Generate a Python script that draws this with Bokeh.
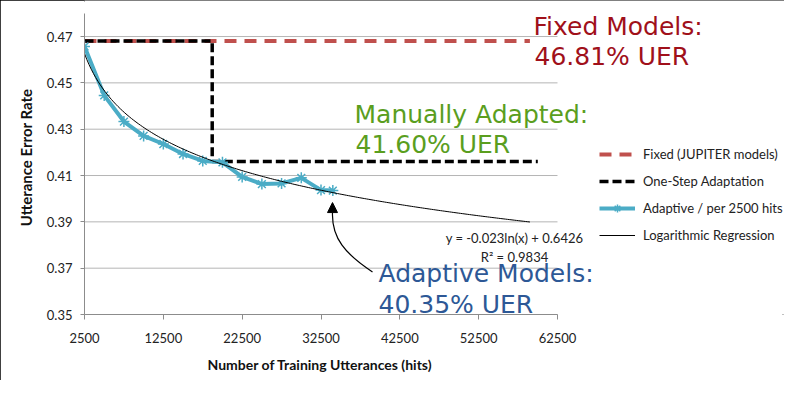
from bokeh.plotting import figure
from bokeh.models import (Range1d, FixedTicker, Label, Legend, LegendItem, Arrow,
                          NormalHead, PrintfTickFormatter, Title)
from bokeh.embed import file_html
from bokeh.resources import INLINE
import numpy as np

# ---------------- data ----------------
x_ticks = [2500, 12500, 22500, 32500, 42500, 52500, 62500]
y_ticks = [0.35, 0.37, 0.39, 0.41, 0.43, 0.45, 0.47]

hits = [2500, 5000, 7500, 10000, 12500, 15000, 17500, 20000, 22500, 25000,
        27500, 30000, 32500, 34000]
uer = [0.4657, 0.4446, 0.4333, 0.4271, 0.4236, 0.4193, 0.4163, 0.4157, 0.4094,
       0.4063, 0.4066, 0.4090, 0.4037, 0.4035]

fixed_x = [2500, 59000]
fixed_y = [0.4681, 0.4681]

step_x = [2500, 18700, 18700, 60000]
step_y = [0.4681, 0.4681, 0.4160, 0.4160]

reg_slope = -0.023
reg_intercept = 0.6426
reg_x_start = 2500
reg_x_end = 59000

legend_labels = ["Fixed (JUPITER models)", "One-Step Adaptation",
                 "Adaptive / per 2500 hits", "Logarithmic Regression"]

# ---------------- layout helpers (canvas pixel -> data) ----------------
W, H = 784, 380
AX_L, AX_R, AX_T, AX_B = 84.0, 557.0, 13.0, 317.0   # axes box in canvas px
X0, X1, Y0, Y1 = 2500, 62500, 0.35, 0.48


def dx(px):
    return X0 + (px - AX_L) / (AX_R - AX_L) * (X1 - X0)


def dy(py):
    return Y0 + (AX_B - py) / (AX_B - AX_T) * (Y1 - Y0)


TICK_FONT = "Lato"
ANN_FONT = "DejaVu Sans"

# the frame spans to the right and top edges so that texts and legend are not clipped
p = figure(width=W, height=H, output_backend="svg", toolbar_location=None,
           x_range=Range1d(X0, dx(W)), y_range=Range1d(Y0, dy(0)),
           min_border_left=int(AX_L), min_border_right=0, min_border_top=0,
           min_border_bottom=int(H - AX_B))
p.outline_line_color = None
p.background_fill_color = "white"
p.border_fill_color = "white"
p.styles = {"outline": "2px solid black", "outline-offset": "-2px"}

# axes
p.xaxis.ticker = FixedTicker(ticks=x_ticks)
p.yaxis.ticker = FixedTicker(ticks=y_ticks)
p.yaxis.formatter = PrintfTickFormatter(format="%.2f")
p.xaxis.bounds = (X0, X1)
p.yaxis.bounds = (Y0, Y1)
for ax in (p.xaxis[0], p.yaxis[0]):
    ax.axis_line_color = "#8c8c8c"
    ax.major_tick_line_color = "#8c8c8c"
    ax.minor_tick_line_color = None
    ax.major_tick_in = 0
    ax.major_label_text_font = TICK_FONT
    ax.major_label_text_font_size = "13px"
    ax.major_label_text_color = "#222222"
    ax.axis_label_text_font = TICK_FONT
    ax.axis_label_text_font_style = "bold"
    ax.axis_label_text_color = "#111111"
p.yaxis.axis_label_text_font_size = "15px"
p.xaxis.major_tick_out = 5
p.yaxis.major_tick_out = 4
p.xaxis.major_label_standoff = 13
p.yaxis.major_label_standoff = 8
p.yaxis.axis_label = "Utterance Error Rate"
p.yaxis.axis_label_standoff = 9

# x-axis title placed as a title below the axis, aligned to the axes box
x_title = Title(text="Number of Training Utterances (hits)", align="left",
                offset=207 - AX_L, text_font=TICK_FONT, text_font_size="14px",
                text_font_style="bold", text_color="#111111", standoff=16)
p.add_layout(x_title, "below")

# gridlines drawn only across the axes box
p.xgrid.grid_line_color = None
p.ygrid.grid_line_color = None
p.segment(x0=[X0] * len(y_ticks), y0=y_ticks, x1=[X1] * len(y_ticks), y1=y_ticks,
          line_color="#b5b5b5", line_width=1)

# series
fixed_r = p.line(fixed_x, fixed_y, line_color="#c0504d", line_width=4, line_dash="12 8")
step_r = p.line(step_x, step_y, line_color="black", line_width=3.5, line_dash="9 4")
adapt_l = p.line(hits, uer, line_color="#4bacc6", line_width=4)
adapt_m = p.scatter(hits, uer, marker="asterisk", size=11, line_color="#4bacc6",
                    line_width=1.5)
reg_x = np.linspace(reg_x_start, reg_x_end, 200)
reg_y = reg_slope * np.log(reg_x) + reg_intercept
reg_r = p.line(reg_x, reg_y, line_color="black", line_width=1)

legend = Legend(items=[
    LegendItem(label=legend_labels[0], renderers=[fixed_r]),
    LegendItem(label=legend_labels[1], renderers=[step_r]),
    LegendItem(label=legend_labels[2], renderers=[adapt_l, adapt_m]),
    LegendItem(label=legend_labels[3], renderers=[reg_r]),
], location=(599 - AX_L, AX_B - 248), glyph_width=36, glyph_height=20,
    label_height=20, spacing=7, padding=0, margin=0, label_standoff=8,
    border_line_color=None, background_fill_alpha=0, label_text_font=TICK_FONT,
    label_text_font_size="13px", label_text_color="#222222")
p.add_layout(legend)

# annotations (baseline positions, with a small correction for Bokeh's text box)
BIG_SHIFT = 9
ann = [
    ("Fixed Models:", 533, 35, "#a0101a"),
    ("46.81% UER", 534, 65.5, "#a0101a"),
    ("Manually Adapted:", 354, 124.5, "#5a9e1e"),
    ("41.60% UER", 355, 154.5, "#5a9e1e"),
    ("Adaptive Models:", 378, 284.5, "#2d5896"),
    ("40.35% UER", 378, 316, "#2d5896"),
]
for txt, px, py, col in ann:
    p.add_layout(Label(x=dx(px), y=dy(py - BIG_SHIFT), text=txt, text_font=ANN_FONT,
                       text_font_size="25px", text_color=col,
                       text_baseline="alphabetic", text_align="left"))

for txt, py in [("y = -0.023ln(x) + 0.6426", 243), ("R\u00b2 = 0.9834", 261.5)]:
    p.add_layout(Label(x=dx(514), y=dy(py - 3), text=txt, text_font=TICK_FONT,
                       text_font_size="13px", text_color="#222222",
                       text_baseline="alphabetic", text_align="center"))

# curved arrow
p.bezier(x0=[dx(372)], y0=[dy(274)], x1=[dx(332)], y1=[dy(214)],
         cx0=[dx(345)], cy0=[dy(256)], cx1=[dx(331)], cy1=[dy(240)],
         line_color="black", line_width=1.2)
p.add_layout(Arrow(end=NormalHead(size=10, fill_color="black", line_color="black"),
                   x_start=dx(332), y_start=dy(216), x_end=dx(332), y_end=dy(204),
                   line_alpha=0))

open("out.html", "w").write(file_html(p, INLINE))
